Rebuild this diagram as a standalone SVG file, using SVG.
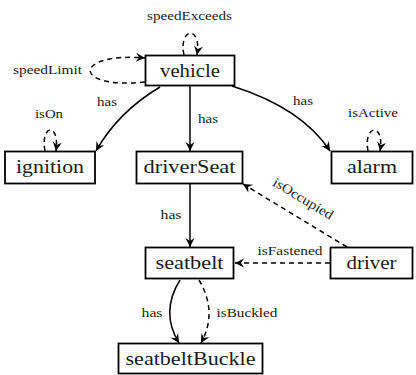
<svg xmlns="http://www.w3.org/2000/svg" width="416" height="375" viewBox="0 0 416 375">
<style>
.box{fill:#fff;stroke:#000;stroke-width:1.8}
text{font-family:'Liberation Serif','Times New Roman',serif;fill:#1a1a1a;text-anchor:middle}
.e{fill:none;stroke:#000;stroke-width:1.5;marker-end:url(#ah)}
.d{stroke-dasharray:5,4}
</style>
<defs>
<marker id="ah" viewBox="-10 -5 11 10" refX="0" refY="0" markerWidth="11" markerHeight="10" markerUnits="userSpaceOnUse" orient="auto">
<path d="M0,0 L-9,-4.5 L-6,0 L-9,4.5 Z" fill="#000"/>
</marker>
</defs>
<rect width="416" height="375" fill="#fff"/>
<g id="connectors">
<path class="e" d="M160,87 Q118,112 96,151"/>
<path class="e" d="M190,86 L190,151"/>
<path class="e" d="M232,86 Q302,108 330,151"/>
<path class="e" d="M190,184 L190,247"/>
<path class="e d" d="M347,247 L243,184"/>
<path class="e d" d="M330,263 L235,263"/>
<path class="e" d="M180,280 Q160,312 179,343"/>
<path class="e d" d="M199,280 Q218,312 201,343"/>
<path class="e d" d="M184,55 C178,28 202,24 197,55"/>
<path class="e d" d="M145,82 C72,90 72,52 145,58"/>
<path class="e d" d="M45,151 C40,124 60,122 56,151"/>
<path class="e d" d="M368,151 C363,124 385,122 380,151"/>
<text font-size="13.5" x="189.5" y="20" textLength="85" lengthAdjust="spacingAndGlyphs">speedExceeds</text>
<text font-size="13.5" x="47.5" y="74" textLength="69" lengthAdjust="spacingAndGlyphs">speedLimit</text>
<text font-size="13.5" x="107" y="106" textLength="20" lengthAdjust="spacingAndGlyphs">has</text>
<text font-size="13.5" x="49" y="118" textLength="28" lengthAdjust="spacingAndGlyphs">isOn</text>
<text font-size="13.5" x="208" y="123" textLength="20" lengthAdjust="spacingAndGlyphs">has</text>
<text font-size="13.5" x="303" y="105" textLength="20" lengthAdjust="spacingAndGlyphs">has</text>
<text font-size="13.5" x="373" y="117" textLength="50" lengthAdjust="spacingAndGlyphs">isActive</text>
<text font-size="13.5" x="171" y="219" textLength="21" lengthAdjust="spacingAndGlyphs">has</text>
<text font-size="13.5" x="0" y="4" textLength="68" lengthAdjust="spacingAndGlyphs" transform="translate(303,199) rotate(31)">isOccupied</text>
<text font-size="13.5" x="290" y="255" textLength="65" lengthAdjust="spacingAndGlyphs">isFastened</text>
<text font-size="13.5" x="152" y="317" textLength="21" lengthAdjust="spacingAndGlyphs">has</text>
<text font-size="13.5" x="247" y="317" textLength="61" lengthAdjust="spacingAndGlyphs">isBuckled</text>
</g>
<g id="vehicle"><rect class="box" x="145.5" y="55.5" width="89" height="30"/><text font-size="19" x="190" y="77" textLength="60" lengthAdjust="spacingAndGlyphs">vehicle</text></g>
<g id="ignition"><rect class="box" x="5" y="151.5" width="90" height="32"/><text font-size="19" x="50" y="173" textLength="68" lengthAdjust="spacingAndGlyphs">ignition</text></g>
<g id="driverSeat"><rect class="box" x="136.5" y="151.5" width="106" height="32"/><text font-size="19" x="189.5" y="173" textLength="92" lengthAdjust="spacingAndGlyphs">driverSeat</text></g>
<g id="alarm"><rect class="box" x="331.5" y="151.5" width="81" height="32"/><text font-size="19" x="372" y="173" textLength="50" lengthAdjust="spacingAndGlyphs">alarm</text></g>
<g id="seatbelt"><rect class="box" x="145.5" y="247.5" width="88" height="31"/><text font-size="19" x="189.5" y="269" textLength="68" lengthAdjust="spacingAndGlyphs">seatbelt</text></g>
<g id="driver"><rect class="box" x="330.5" y="247.5" width="82" height="31"/><text font-size="19" x="371.5" y="269" textLength="50" lengthAdjust="spacingAndGlyphs">driver</text></g>
<g id="seatbeltBuckle"><rect class="box" x="118.5" y="343.5" width="144" height="30"/><text font-size="19" x="190.5" y="365" textLength="130" lengthAdjust="spacingAndGlyphs">seatbeltBuckle</text></g>
</svg>
